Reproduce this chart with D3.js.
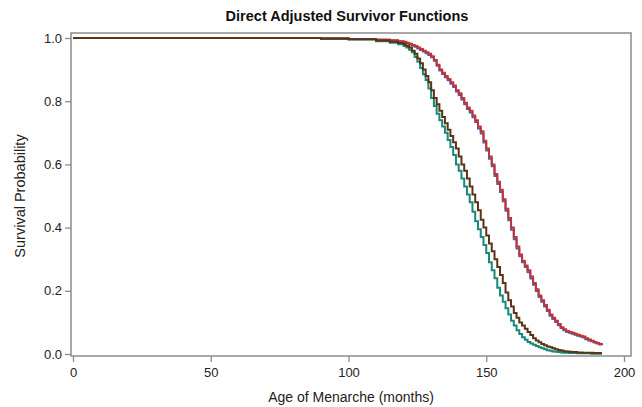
<!DOCTYPE html>
<html><head><meta charset="utf-8">
<script src="https://cdn.jsdelivr.net/npm/d3@7"></script>
<style>body{margin:0;background:#fff}svg{display:block}</style>
</head><body>
<svg id="c" width="642" height="407"></svg>
<script>
// Time points (months) at which survival values were read
const times = [0,90,100,110,115,118,120,121,122,123,124,125,126,127,128,129,130,131,132,133,134,135,136,137,138,139,140,141,142,143,144,145,146,147,148,149,150,151,152,153,154,155,156,157,158,159,160,161,162,163,164,165,166,167,168,169,170,171,172,173,174,175,176,177,178,179,180,181,182,183,184,185,186,187,188,189,190,191,192];

const blueS = [1,0.999,0.997,0.994,0.992,0.989,0.986,0.983,0.980,0.976,0.972,0.967,0.962,0.957,0.952,0.946,0.939,0.928,0.912,0.897,0.886,0.876,0.866,0.855,0.845,0.831,0.820,0.805,0.790,0.775,0.764,0.749,0.734,0.714,0.698,0.669,0.644,0.618,0.594,0.563,0.538,0.513,0.483,0.453,0.423,0.393,0.363,0.334,0.309,0.290,0.275,0.259,0.239,0.219,0.199,0.180,0.165,0.150,0.136,0.121,0.111,0.101,0.091,0.082,0.075,0.070,0.067,0.064,0.061,0.058,0.055,0.052,0.047,0.043,0.040,0.036,0.033,0.030,0.028];
const redS  = [1,0.999,0.997,0.995,0.993,0.990,0.988,0.985,0.982,0.978,0.975,0.970,0.965,0.960,0.955,0.950,0.942,0.930,0.915,0.900,0.890,0.880,0.870,0.860,0.850,0.835,0.825,0.810,0.795,0.780,0.770,0.755,0.740,0.720,0.705,0.675,0.650,0.625,0.600,0.570,0.545,0.520,0.490,0.460,0.430,0.400,0.370,0.340,0.315,0.295,0.280,0.265,0.245,0.225,0.205,0.185,0.170,0.155,0.140,0.125,0.115,0.105,0.095,0.085,0.078,0.073,0.070,0.067,0.064,0.061,0.058,0.055,0.050,0.046,0.042,0.038,0.035,0.032,0.030];
const tealS = [1,0.998,0.995,0.990,0.985,0.980,0.975,0.970,0.963,0.955,0.940,0.925,0.905,0.885,0.867,0.840,0.810,0.785,0.760,0.740,0.720,0.700,0.677,0.655,0.630,0.600,0.580,0.555,0.530,0.505,0.480,0.450,0.420,0.395,0.370,0.345,0.320,0.290,0.265,0.240,0.210,0.185,0.165,0.145,0.125,0.105,0.090,0.075,0.063,0.053,0.045,0.038,0.033,0.029,0.025,0.021,0.018,0.015,0.012,0.010,0.008,0.007,0.006,0.005,0.004,0.004,0.003,0.003,0.003,0.002,0.002,0.002,0.002,0.002,0.001,0.001,0.001,0.001,0.001];
const brownS= [1,0.998,0.996,0.992,0.988,0.984,0.980,0.975,0.970,0.960,0.950,0.935,0.920,0.900,0.880,0.860,0.835,0.810,0.790,0.770,0.750,0.730,0.710,0.690,0.670,0.650,0.625,0.600,0.580,0.555,0.530,0.505,0.480,0.455,0.425,0.400,0.375,0.350,0.325,0.300,0.275,0.250,0.225,0.195,0.170,0.150,0.130,0.115,0.100,0.090,0.080,0.070,0.060,0.050,0.043,0.037,0.032,0.028,0.024,0.021,0.018,0.015,0.013,0.011,0.009,0.008,0.007,0.006,0.006,0.005,0.005,0.004,0.004,0.004,0.004,0.003,0.003,0.003,0.003];

const xTicks = [0,50,100,150,200];
const yTicks = [0,0.2,0.4,0.6,0.8,1.0];

const title = "Direct Adjusted Survivor Functions";
const xLabel = "Age of Menarche (months)";
const yLabel = "Survival Probability";

const series = [
  {name:"blue", values: blueS, color:"#4a5cb4"},
  {name:"red", values: redS, color:"#c43434"},
  {name:"teal", values: tealS, color:"#17897a"},
  {name:"brown", values: brownS, color:"#5a3414"}
];

const svg = d3.select("#c");
const frame = {l:71, r:631, t:33, b:356};
const x = d3.scaleLinear().domain([0,200]).range([73,624]);
const y = d3.scaleLinear().domain([0,1]).range([354,38]);
const font = "'Liberation Sans', Arial, sans-serif";

svg.append("rect").attr("x",frame.l).attr("y",frame.t)
  .attr("width",frame.r-frame.l).attr("height",frame.b-frame.t)
  .attr("fill","none").attr("stroke","#8c8c8c").attr("stroke-width",1.5);

const xAxis = svg.append("g").attr("transform",`translate(0,${frame.b})`)
  .call(d3.axisBottom(x).tickValues(xTicks).tickSize(6).tickPadding(6).tickFormat(d3.format("d")));
const yAxis = svg.append("g").attr("transform",`translate(${frame.l},0)`)
  .call(d3.axisLeft(y).tickValues(yTicks).tickSize(6).tickPadding(3).tickFormat(d3.format(".1f")));
[xAxis,yAxis].forEach(a=>{
  a.select(".domain").remove();
  a.selectAll(".tick line").attr("stroke","#8c8c8c").attr("stroke-width",1.3);
  a.selectAll(".tick text").attr("fill","#222").style("font-family",font).style("font-size","13px");
});

const line = d3.line().curve(d3.curveStepAfter).x(d=>x(d[0])).y(d=>y(d[1]));
series.forEach(s=>{
  svg.append("path").datum(times.map((t,i)=>[t,s.values[i]]))
    .attr("d",line).attr("fill","none").attr("stroke",s.color).attr("stroke-width",2);
});

svg.append("text").attr("x",347).attr("y",21).attr("text-anchor","middle")
  .style("font-family",font).style("font-weight","bold").style("font-size","14.5px").attr("fill","#111").text(title);
svg.append("text").attr("x",351).attr("y",402).attr("text-anchor","middle")
  .style("font-family",font).style("font-size","14px").attr("fill","#222").text(xLabel);
svg.append("text").attr("transform","translate(25,196) rotate(-90)").attr("text-anchor","middle")
  .style("font-family",font).style("font-size","14.5px").attr("fill","#222").text(yLabel);
</script>
</body></html>
